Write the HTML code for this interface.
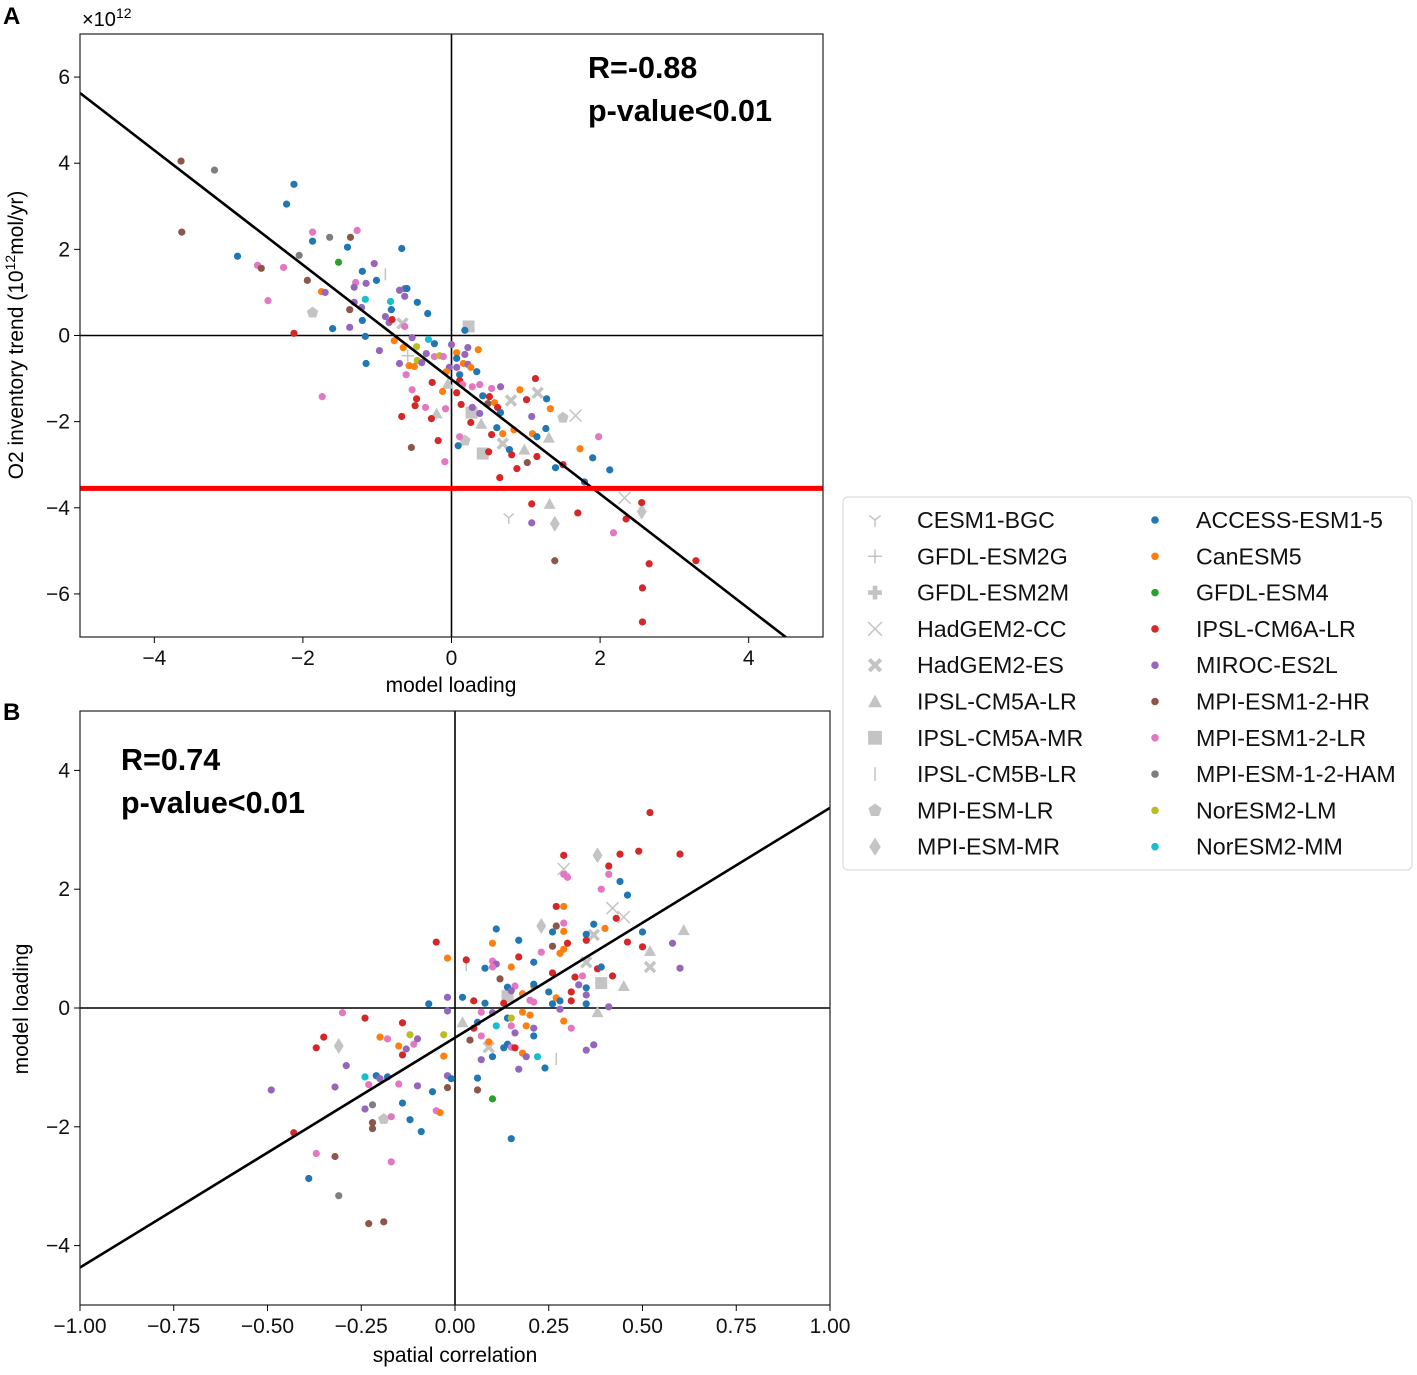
<!DOCTYPE html>
<html><head><meta charset="utf-8"><style>
body{margin:0;background:#fff}
svg text{font-family:"Liberation Sans","DejaVu Sans",sans-serif}
</style></head><body>
<svg id="chart" width="1417" height="1370" viewBox="0 0 1417 1370" xmlns="http://www.w3.org/2000/svg">
<defs>
<clipPath id="clipA"><rect x="80" y="34" width="743" height="603"/></clipPath>
<clipPath id="clipB"><rect x="80" y="711" width="750" height="594"/></clipPath>
</defs>
<rect width="1417" height="1370" fill="#fff"/>
<text x="3" y="24" font-size="24" font-weight="bold">A</text>
<text x="3" y="720" font-size="24" font-weight="bold">B</text>
<g id="pA"></g>
<g id="pB"></g>
<g id="legend"></g>
</svg>
<script>
// ---- data ----
const modelNames = ["CESM1-BGC","GFDL-ESM2G","GFDL-ESM2M","HadGEM2-CC","HadGEM2-ES","IPSL-CM5A-LR","IPSL-CM5A-MR","IPSL-CM5B-LR","MPI-ESM-LR","MPI-ESM-MR","ACCESS-ESM1-5","CanESM5","GFDL-ESM4","IPSL-CM6A-LR","MIROC-ES2L","MPI-ESM1-2-HR","MPI-ESM1-2-LR","MPI-ESM-1-2-HAM","NorESM2-LM","NorESM2-MM"];
const modelMarkers = ["Y","+","P","x","X","^","s","|","p","d","o","o","o","o","o","o","o","o","o","o"];
const modelColors = ["#c4c4c4","#c4c4c4","#c4c4c4","#c4c4c4","#c4c4c4","#c4c4c4","#c4c4c4","#c4c4c4","#c4c4c4","#c4c4c4","#1f77b4","#ff7f0e","#2ca02c","#d62728","#9467bd","#8c564b","#e377c2","#7f7f7f","#bcbd22","#17becf"];
const aX = [-3.64,-3.19,-3.63,-2.12,-2.22,-2.88,-2.61,-2.56,-2.47,-1.87,-1.87,-1.64,-1.36,-1.27,-1.40,-0.67,-2.05,-1.52,-1.04,-2.26,-0.89,-1.20,-1.01,-1.94,-1.29,-1.15,-1.75,-1.70,-1.31,-0.70,-0.63,-0.60,-0.63,-0.46,-0.32,-1.16,-0.82,-1.31,-1.21,-1.37,-0.81,-1.87,-1.20,-0.89,-0.84,-0.80,-0.66,-0.63,-1.37,-1.60,-2.12,0.23,0.18,-1.16,-0.77,-0.53,-0.31,-0.23,0.0,0.22,0.36,-0.97,-0.65,-0.47,-0.59,-0.34,-0.23,-0.16,-0.11,0.07,0.18,0.07,-0.46,-0.57,-0.50,-0.70,-0.40,-1.15,-0.03,0.07,0.16,0.22,0.26,0.34,-0.61,-0.07,0.11,-0.26,-0.05,0.11,0.15,0.28,0.38,0.54,0.66,0.92,1.13,1.16,-0.12,0.07,-0.53,-1.74,0.42,0.51,0.49,0.58,0.62,0.80,1.01,1.28,1.33,-0.47,-0.49,-0.35,0.13,0.28,0.27,0.38,0.66,1.08,1.50,1.67,-0.20,-0.67,-0.27,-0.08,0.40,0.26,0.61,0.69,0.54,0.84,1.09,1.15,1.27,1.31,1.98,0.11,0.18,-0.18,0.69,0.78,0.98,0.09,0.42,0.50,0.81,1.15,1.02,1.73,1.90,-0.54,-0.09,0.88,1.40,1.50,2.13,0.65,0.77,1.08,1.08,1.32,1.39,1.70,1.39,2.33,2.35,2.56,2.56,2.18,2.66,2.57,2.57,3.29,1.79];
const aY = [4.05,3.84,2.40,3.51,3.05,1.84,1.63,1.56,0.81,2.40,2.19,2.28,2.28,2.44,2.05,2.02,1.86,1.70,1.67,1.58,1.42,1.49,1.28,1.28,1.23,1.21,1.02,1.00,1.12,1.05,1.09,1.09,0.91,0.77,0.51,0.84,0.79,0.77,0.65,0.60,0.60,0.53,0.35,0.44,0.30,0.37,0.28,0.21,0.19,0.16,0.05,0.21,0.12,-0.02,-0.12,-0.05,-0.09,-0.19,-0.21,-0.28,-0.33,-0.35,-0.28,-0.26,-0.47,-0.42,-0.49,-0.47,-0.49,-0.40,-0.44,-0.53,-0.58,-0.70,-0.72,-0.65,-0.63,-0.65,-0.74,-0.74,-0.65,-0.67,-0.74,-0.84,-0.91,-0.84,-0.91,-1.09,-1.12,-1.05,-1.14,-1.19,-1.14,-1.23,-1.19,-1.26,-1.00,-1.33,-1.30,-1.33,-1.26,-1.42,-1.40,-1.42,-1.58,-1.56,-1.67,-1.51,-1.49,-1.47,-1.70,-1.47,-1.63,-1.67,-1.60,-1.67,-1.79,-1.81,-1.79,-1.88,-1.91,-1.86,-1.81,-1.88,-1.93,-1.70,-2.05,-2.02,-2.14,-2.28,-2.30,-2.19,-2.28,-2.35,-2.16,-2.37,-2.35,-2.35,-2.44,-2.44,-2.51,-2.65,-2.65,-2.56,-2.74,-2.70,-2.77,-2.81,-2.95,-2.63,-2.84,-2.60,-2.93,-3.09,-3.07,-3.00,-3.12,-3.30,-4.23,-3.91,-4.35,-3.91,-4.37,-4.12,-5.23,-3.77,-4.26,-4.09,-3.88,-4.58,-5.30,-5.86,-6.65,-5.23,-3.40];
const aM = [15,17,15,10,10,10,16,15,16,16,10,17,15,16,10,10,17,12,14,16,7,10,10,15,16,14,11,14,14,14,14,10,14,10,10,19,19,14,14,15,10,8,10,14,14,13,4,16,14,10,13,6,10,10,11,14,19,10,14,14,11,14,11,18,1,14,16,18,16,11,14,10,18,11,11,14,14,10,14,14,11,14,11,10,16,11,10,13,5,13,16,16,16,16,14,11,13,4,11,13,16,16,10,13,15,11,13,4,13,10,11,13,13,16,13,14,6,14,10,14,8,3,5,13,13,16,5,13,10,11,13,11,11,10,10,5,16,16,8,13,4,10,5,10,6,13,13,13,15,11,10,15,16,13,10,13,10,13,0,13,14,5,9,13,15,3,13,9,13,16,13,13,13,13,10];
const bX = [0.29,0.38,0.44,0.49,0.60,0.41,0.29,0.29,0.30,0.41,0.44,0.39,0.46,0.27,0.29,0.42,0.45,0.43,0.23,0.29,0.27,0.26,0.29,0.37,0.35,0.37,0.40,0.50,0.61,0.11,0.17,0.35,-0.05,0.10,0.26,0.30,0.46,0.58,0.29,0.28,0.23,0.50,0.52,-0.02,0.03,0.03,0.17,0.10,0.11,0.10,0.08,0.15,0.21,0.26,0.35,0.52,0.60,0.38,0.39,0.42,0.32,0.34,0.12,0.39,0.45,0.33,0.35,0.14,0.16,0.15,0.14,0.21,0.21,0.25,0.18,0.31,0.35,0.27,0.31,0.35,0.28,0.26,0.20,0.21,-0.07,-0.02,0.02,0.05,0.08,0.13,-0.02,0.07,0.10,0.18,0.20,0.28,0.38,0.41,-0.30,-0.24,-0.14,0.02,0.06,0.14,0.15,0.11,0.15,0.19,0.21,0.29,0.31,0.16,0.21,0.05,0.07,0.04,0.09,0.09,-0.35,-0.37,-0.31,-0.20,-0.18,-0.15,-0.12,-0.11,-0.13,-0.10,-0.14,-0.03,-0.03,0.13,0.14,0.15,0.16,0.18,0.19,0.22,0.10,0.07,0.27,0.37,0.35,0.24,0.17,0.06,-0.29,-0.24,-0.21,-0.18,-0.20,-0.23,-0.15,-0.10,-0.02,-0.01,-0.02,-0.06,0.06,-0.49,-0.32,0.10,-0.14,-0.22,-0.24,-0.05,-0.04,-0.19,-0.17,-0.12,-0.22,0.15,-0.43,-0.22,-0.09,-0.37,-0.32,-0.17,-0.39,-0.31,-0.23,-0.19,0.52];
const bY = [2.57,2.57,2.59,2.64,2.59,2.39,2.34,2.25,2.20,2.25,2.13,2.00,1.90,1.71,1.71,1.68,1.53,1.51,1.38,1.43,1.38,1.28,1.29,1.41,1.24,1.23,1.34,1.28,1.31,1.33,1.14,1.14,1.11,1.09,1.04,1.09,1.11,1.09,0.99,0.92,0.94,1.03,0.96,0.84,0.81,0.72,0.86,0.79,0.74,0.69,0.67,0.69,0.77,0.59,0.77,0.69,0.67,0.66,0.69,0.54,0.52,0.54,0.49,0.42,0.37,0.39,0.34,0.35,0.37,0.29,0.20,0.37,0.40,0.27,0.24,0.27,0.22,0.17,0.12,0.07,0.12,0.07,0.13,0.10,0.07,0.18,0.18,0.12,0.08,0.08,-0.05,-0.07,-0.08,-0.07,-0.12,-0.02,-0.07,0.02,-0.08,-0.17,-0.25,-0.24,-0.24,-0.17,-0.17,-0.30,-0.30,-0.30,-0.34,-0.22,-0.34,-0.42,-0.47,-0.34,-0.47,-0.54,-0.57,-0.66,-0.49,-0.67,-0.64,-0.49,-0.52,-0.64,-0.45,-0.61,-0.69,-0.52,-0.79,-0.45,-0.81,-0.67,-0.61,-0.66,-0.67,-0.76,-0.82,-0.82,-0.82,-0.87,-0.86,-0.62,-0.71,-1.01,-1.03,-1.18,-0.97,-1.16,-1.14,-1.16,-1.19,-1.29,-1.28,-1.31,-1.14,-1.19,-1.34,-1.41,-1.38,-1.38,-1.33,-1.53,-1.60,-1.63,-1.70,-1.73,-1.76,-1.87,-1.83,-1.88,-1.93,-2.20,-2.10,-2.03,-2.08,-2.45,-2.50,-2.59,-2.87,-3.16,-3.63,-3.60,3.29];
const bM = [13,9,13,13,13,13,3,16,16,16,10,16,10,13,11,3,3,13,9,16,15,10,11,10,10,4,11,10,5,10,10,13,13,11,15,13,13,14,11,11,16,13,5,11,13,7,13,16,14,16,10,11,10,13,4,4,14,13,10,13,13,16,15,6,5,14,10,10,16,14,6,11,10,10,11,13,14,11,13,10,10,10,16,16,10,14,10,13,10,13,14,16,14,11,11,14,5,14,16,13,13,5,10,10,18,19,16,11,14,11,16,14,10,13,16,15,11,4,13,13,9,11,16,11,18,16,14,14,13,18,11,10,10,16,13,11,14,19,10,14,7,14,14,10,14,10,14,19,10,10,14,16,16,14,14,10,15,10,15,14,14,12,10,17,14,16,11,8,16,10,15,10,13,15,10,16,15,16,10,17,15,15,13];
const tickAX = [-4,-2,0,2,4], tickAY = [-6,-4,-2,0,2,4,6];
const tickBX = [-1,-0.75,-0.5,-0.25,0,0.25,0.5,0.75,1], tickBY = [-4,-2,0,2,4];
const fitA = [-1.33,-1.02], redLineA = [-3.55];
const fitB = [3.87,-0.5];

const NS="http://www.w3.org/2000/svg";
function mk(tag, attrs, parent){const e=document.createElementNS(NS,tag);for(const k in attrs)e.setAttribute(k,attrs[k]);parent.appendChild(e);return e;}
function marker(type,cx,cy,color,g,s){
  s=s||1;let e;
  const gray=color;
  if(type==="o"){e=mk("circle",{cx:cx,cy:cy,r:3.6*s,fill:color},g);}
  else if(type==="Y"){e=mk("path",{d:`M${cx},${cy}v${6*s}M${cx},${cy}l${-5*s},${-4*s}M${cx},${cy}l${5*s},${-4*s}`,stroke:gray,"stroke-width":1.5,fill:"none"},g);}
  else if(type==="+"){e=mk("path",{d:`M${cx-6*s},${cy}h${12*s}M${cx},${cy-6*s}v${12*s}`,stroke:gray,"stroke-width":1.5,fill:"none"},g);}
  else if(type==="P"){e=mk("path",{d:`M${cx-6*s},${cy}h${12*s}M${cx},${cy-6*s}v${12*s}`,stroke:gray,"stroke-width":4*s,fill:"none"},g);}
  else if(type==="x"){e=mk("path",{d:`M${cx-6*s},${cy-6*s}l${12*s},${12*s}M${cx+6*s},${cy-6*s}l${-12*s},${12*s}`,stroke:gray,"stroke-width":1.5,fill:"none"},g);}
  else if(type==="X"){e=mk("path",{d:`M${cx-5*s},${cy-5*s}l${10*s},${10*s}M${cx+5*s},${cy-5*s}l${-10*s},${10*s}`,stroke:gray,"stroke-width":3.5*s,fill:"none"},g);}
  else if(type==="^"){e=mk("path",{d:`M${cx},${cy-6*s}L${cx+6*s},${cy+5*s}L${cx-6*s},${cy+5*s}Z`,fill:gray},g);}
  else if(type==="s"){e=mk("rect",{x:cx-6*s,y:cy-6*s,width:12*s,height:12*s,fill:gray},g);}
  else if(type==="|"){e=mk("path",{d:`M${cx},${cy-6*s}v${12*s}`,stroke:gray,"stroke-width":1.5},g);}
  else if(type==="p"){let d="";for(let i=0;i<5;i++){const a=-Math.PI/2+i*2*Math.PI/5;d+=(i?"L":"M")+(cx+6*s*Math.cos(a))+","+(cy+6*s*Math.sin(a));}e=mk("path",{d:d+"Z",fill:gray},g);}
  else if(type==="d"){e=mk("path",{d:`M${cx},${cy-8*s}L${cx+5*s},${cy}L${cx},${cy+8*s}L${cx-5*s},${cy}Z`,fill:gray},g);}
  return e;
}
function panel(g,box,xlim,ylim,xs,ys,ms,xt,yt,xfmt,clip,fit){
  const sx=v=>box.x+(v-xlim[0])/(xlim[1]-xlim[0])*box.w;
  const sy=v=>box.y+box.h-(v-ylim[0])/(ylim[1]-ylim[0])*box.h;
  const cg=mk("g",{"clip-path":`url(#${clip})`},g);
  let z=mk("line",{x1:box.x,x2:box.x+box.w,y1:sy(0),y2:sy(0),stroke:"#000","stroke-width":1.6},cg);
  
  
  z=mk("line",{x1:sx(0),x2:sx(0),y1:box.y,y2:box.y+box.h,stroke:"#000","stroke-width":1.6},cg);
  
  
  const order=[...xs.keys()].sort((a,b)=>(ms[a]>=10)-(ms[b]>=10));
  for(const i of order){
    const m=marker(modelMarkers[ms[i]],sx(xs[i]),sy(ys[i]),modelColors[ms[i]],cg);
    
    
  }
  const l=mk("line",{x1:sx(xlim[0]),y1:sy(fit[0]*xlim[0]+fit[1]),x2:sx(xlim[1]),y2:sy(fit[0]*xlim[1]+fit[1]),stroke:"#000","stroke-width":2.6},cg);
  
  
  const fr=mk("rect",{x:box.x,y:box.y,width:box.w,height:box.h,fill:"none",stroke:"#222","stroke-width":1.2},g);
  
  
  for(const v of xt){
    mk("line",{x1:sx(v),x2:sx(v),y1:box.y+box.h,y2:box.y+box.h+6,stroke:"#000"},g);
    const t=mk("text",{x:sx(v),y:box.y+box.h+28,"font-size":21,"text-anchor":"middle",fill:"#111"},g);
    t.textContent=xfmt(v);
    
    
  }
  for(const v of yt){
    mk("line",{x1:box.x-6,x2:box.x,y1:sy(v),y2:sy(v),stroke:"#000"},g);
    const t=mk("text",{x:box.x-10,y:sy(v)+7,"font-size":21,"text-anchor":"end",fill:"#111"},g);
    t.textContent=v<0?"\u2212"+Math.abs(v):String(v);
    
    
  }
  return {sx,sy,cg};
}
const pA=document.getElementById("pA"),pB=document.getElementById("pB");
const A=panel(pA,{x:80,y:34,w:743,h:603},[-5,5],[-7,7],aX,aY,aM,tickAX,tickAY,v=>v<0?"\u2212"+Math.abs(v):String(v),"clipA",fitA);
const rl=mk("line",{x1:80,x2:823,y1:A.sy(redLineA[0]),y2:A.sy(redLineA[0]),stroke:"#ff0000","stroke-width":5},A.cg);


const B=panel(pB,{x:80,y:711,w:750,h:594},[-1,1],[-5,5],bX,bY,bM,tickBX,tickBY,v=>(v<0?"\u2212":"")+Math.abs(v).toFixed(2),"clipB",fitB);
function txt(p,x,y,s,attrs,name){const t=mk("text",Object.assign({x:x,y:y},attrs),p);t.textContent=s;return t;}
const sc=txt(pA,82,26,"×10",{"font-size":20},"scale-multiplier");
const sup=mk("tspan",{"font-size":14,dy:-8},sc);sup.textContent="12";
txt(pA,588,78,"R=-0.88",{"font-size":30.5,"font-weight":"bold"},"r-value-a");
txt(pA,588,121,"p-value<0.01",{"font-size":30.5,"font-weight":"bold"},"p-value-a");
txt(pA,451,692,"model loading",{"font-size":21,"text-anchor":"middle"},"x-axis-title-a");
const ya=txt(pA,0,0,"O2 inventory trend (10",{"font-size":21,"text-anchor":"middle",transform:"translate(23,335) rotate(-90)"},"y-axis-title-a");
const ys1=mk("tspan",{"font-size":14,dy:-8},ya);ys1.textContent="12";
const ys2=mk("tspan",{dy:8},ya);ys2.textContent="mol/yr)";
txt(pB,121,770,"R=0.74",{"font-size":30.5,"font-weight":"bold"},"r-value-b");
txt(pB,121,813,"p-value<0.01",{"font-size":30.5,"font-weight":"bold"},"p-value-b");
txt(pB,455,1362,"spatial correlation",{"font-size":21,"text-anchor":"middle"},"x-axis-title-b");
txt(pB,0,0,"model loading",{"font-size":21,"text-anchor":"middle",transform:"translate(28,1009) rotate(-90)"},"y-axis-title-b");
const lg=document.getElementById("legend");
const lb=mk("rect",{x:843,y:497,width:569,height:373,rx:5,fill:"#fff",stroke:"#ddd","stroke-width":1.2},lg);


for(let i=0;i<20;i++){
  const col=i<10?0:1, row=i%10;
  const y=520+row*36.3;
  const mx=col?1155:875, tx=col?1196:917;
  const eg=mk("g",{},lg);
  
  
  marker(modelMarkers[i],mx,y,modelColors[i],eg,i<10?1.15:1.05);
  const t=mk("text",{x:tx,y:y+8,"font-size":23.2,fill:"#111"},eg);
  t.textContent=modelNames[i];
}
</script>
</body></html>
